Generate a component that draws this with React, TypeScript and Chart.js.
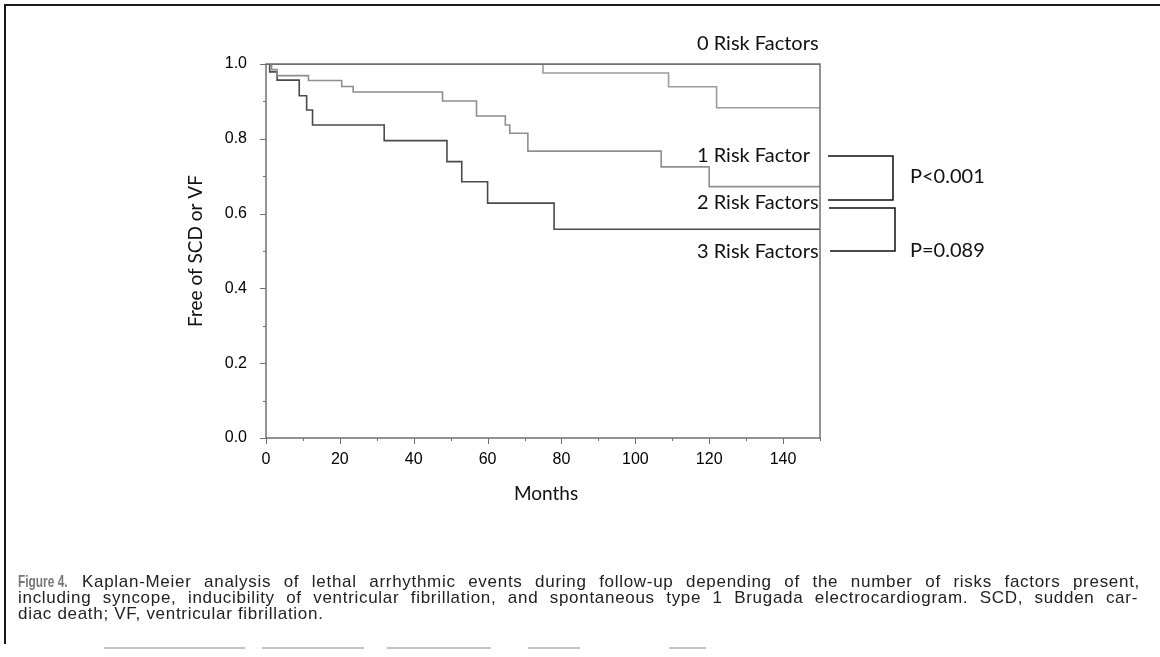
import React, { useEffect, useRef } from "react";
import { Chart, registerables } from "chart.js";

Chart.register(...registerables);

// ---- Data ----
const risk0Months = [0, 150];
const risk0Surv = [1, 1];
const risk1Months = [0, 75, 109, 122, 150];
const risk1Surv = [1, 0.976, 0.939, 0.883, 0.883];
const risk2Months = [0, 1.5, 3, 11.5, 20.5, 23.6, 47.8, 57, 64.8, 66, 70.9, 107, 120, 150];
const risk2Surv = [1, 0.985, 0.969, 0.956, 0.94, 0.925, 0.901, 0.861, 0.837, 0.815, 0.767, 0.725, 0.672, 0.672];
const risk3Months = [0, 1, 3, 9, 11, 12.6, 32, 49, 53, 60, 78, 150];
const risk3Surv = [1, 0.979, 0.957, 0.915, 0.877, 0.837, 0.795, 0.739, 0.685, 0.628, 0.558, 0.558];

const seriesLabels = ["0 Risk Factors", "1 Risk Factor", "2 Risk Factors", "3 Risk Factors"];
const pValueLabels = ["P<0.001", "P=0.089"];
const xMajorTicks = [0, 20, 40, 60, 80, 100, 120, 140];
const yMajorTicks = [0, 0.2, 0.4, 0.6, 0.8, 1.0];
const xTitle = "Months";
const yTitle = "Free of SCD or VF";

const captionHead = "Figure 4.";
const captionLines = [
  "Kaplan-Meier analysis of lethal arrhythmic events during follow-up depending of the number of risks factors present,",
  "including syncope, inducibility of ventricular fibrillation, and spontaneous type 1 Brugada electrocardiogram. SCD, sudden car-",
  "diac death; VF, ventricular fibrillation.",
];

const toPoints = (xs: number[], ys: number[]) => xs.map((x, i) => ({ x, y: ys[i] }));

const LABEL_FONT = '20px "Lato", "Open Sans", sans-serif';

const annotPlugin = {
  id: "annot",
  afterDraw(chart: any) {
    const { ctx, chartArea, scales } = chart;
    const { left, right, top, bottom } = chartArea;
    const xs = scales.x;
    const ys = scales.y;
    ctx.save();
    // frame
    ctx.strokeStyle = "#6f6f6f";
    ctx.lineWidth = 1.5;
    ctx.strokeRect(left, top, right - left, bottom - top);
    // ticks
    ctx.beginPath();
    for (let v = 0; v <= 150; v += 10) {
      const px = Math.round(xs.getPixelForValue(v)) + 0.5;
      const major = v % 20 === 0;
      ctx.moveTo(px, bottom);
      ctx.lineTo(px, bottom + (major ? 6 : 3));
    }
    for (let i = 0; i <= 10; i++) {
      const py = Math.round(ys.getPixelForValue(i / 10)) + 0.5;
      const major = i % 2 === 0;
      ctx.moveTo(left, py);
      ctx.lineTo(left - (major ? 6 : 3), py);
    }
    ctx.lineWidth = 1;
    ctx.stroke();

    // series labels
    ctx.fillStyle = "#111";
    ctx.font = LABEL_FONT;
    ctx.textBaseline = "middle";
    ctx.textAlign = "left";
    const lx = right - 123;
    const labelYs = [top - 20, top + 92, top + 139, top + 188];
    seriesLabels.forEach((s, i) => ctx.fillText(s, lx, labelYs[i]));

    // brackets
    ctx.strokeStyle = "#111";
    ctx.lineWidth = 1.5;
    ctx.beginPath();
    ctx.moveTo(right + 8, top + 92);
    ctx.lineTo(right + 73, top + 92);
    ctx.lineTo(right + 73, top + 136);
    ctx.lineTo(right + 8, top + 136);
    ctx.moveTo(right + 9, top + 144);
    ctx.lineTo(right + 75, top + 144);
    ctx.lineTo(right + 75, top + 187);
    ctx.lineTo(right + 10, top + 187);
    ctx.stroke();

    // p-values
    ctx.fillText(pValueLabels[0], right + 90, top + 113);
    ctx.fillText(pValueLabels[1], right + 90, top + 187);

    // axis titles
    ctx.font = '19px "Lato", "Open Sans", sans-serif';
    ctx.textAlign = "center";
    ctx.fillText(xTitle, (left + right) / 2 + 3, bottom + 56);
    ctx.save();
    ctx.translate(left - 70, (top + bottom) / 2);
    ctx.rotate(-Math.PI / 2);
    ctx.fillText(yTitle, 0, 0);
    ctx.restore();
    ctx.restore();
  },
};

function KMChart() {
  const ref = useRef<HTMLCanvasElement | null>(null);
  useEffect(() => {
    if (!ref.current) return;
    const chart = new Chart(ref.current, {
      type: "line",
      data: {
        datasets: [
          { label: seriesLabels[0], data: toPoints(risk0Months, risk0Surv), borderColor: "#5a5a5a", borderWidth: 1.6 },
          { label: seriesLabels[1], data: toPoints(risk1Months, risk1Surv), borderColor: "#9c9c9c", borderWidth: 1.6 },
          { label: seriesLabels[2], data: toPoints(risk2Months, risk2Surv), borderColor: "#8e8e8e", borderWidth: 1.6 },
          { label: seriesLabels[3], data: toPoints(risk3Months, risk3Surv), borderColor: "#4a4a4a", borderWidth: 1.6 },
        ].map((d) => ({ ...d, stepped: "before" as const, pointRadius: 0, fill: false, tension: 0 })),
      },
      options: {
        animation: false,
        responsive: true,
        maintainAspectRatio: false,
        layout: { padding: { left: 0, top: 64, right: 340, bottom: 189 } },
        plugins: { legend: { display: false }, tooltip: { enabled: false }, title: { display: false } },
        scales: {
          x: {
            type: "linear",
            min: 0,
            max: 150,
            grid: { display: false },
            border: { display: false },
            afterFit: (s: any) => { s.height = 30; },
            ticks: {
              stepSize: 10,
              autoSkip: false,
              maxRotation: 0,
              padding: 4,
              color: "#000",
              font: { family: '"Liberation Sans", Arial, sans-serif', size: 16 },
              callback: (v: any) => (xMajorTicks.includes(Number(v)) ? String(v) : ""),
            },
          },
          y: {
            type: "linear",
            min: 0,
            max: 1,
            grid: { display: false },
            border: { display: false },
            afterFit: (s: any) => { s.width = 266; },
            ticks: {
              stepSize: 0.1,
              autoSkip: false,
              padding: 11,
              color: "#000",
              font: { family: '"Liberation Sans", Arial, sans-serif', size: 16 },
              callback: (v: any) => {
                const n = Number(v);
                return yMajorTicks.some((t) => Math.abs(t - n) < 1e-6) ? n.toFixed(1) : "";
              },
            },
          },
        },
      },
      plugins: [annotPlugin],
    });
    return () => chart.destroy();
  }, []);
  return <canvas ref={ref} />;
}

const scanSegments: [number, number][] = [
  [104, 245], [262, 364], [387, 491], [528, 580], [669, 706],
];

export default function App() {
  const capStyle: React.CSSProperties = {
    fontFamily: '"Liberation Sans", Arial, sans-serif',
    fontSize: 17,
    lineHeight: "16px",
    color: "#222",
    letterSpacing: "0.7px",
    whiteSpace: "nowrap",
  };
  return (
    <div style={{ position: "absolute", left: 0, top: 0, width: 1160, height: 657, background: "#fff", overflow: "hidden" }}>
      <div style={{ position: "absolute", left: 4, top: 4, width: 1156, height: 2, background: "#1a1a1a" }} />
      <div style={{ position: "absolute", left: 4, top: 4, width: 2, height: 640, background: "#1a1a1a" }} />
      {scanSegments.map(([a, b], i) => (
        <div key={i} style={{ position: "absolute", left: a, top: 647, width: b - a, height: 2, background: "#c4c4c4" }} />
      ))}
      <div style={{ position: "absolute", left: 0, top: 0, width: 1160, height: 657 }}>
        <KMChart />
      </div>
      <div
        style={{
          ...capStyle,
          position: "absolute",
          left: 18,
          top: 574,
          letterSpacing: "0px",
          fontWeight: "bold",
          color: "#777",
          transform: "scaleX(0.7)",
          transformOrigin: "left center",
        }}
      >
        {captionHead}
      </div>
      <div style={{ ...capStyle, position: "absolute", left: 82, top: 574, width: 1058, textAlign: "justify", textAlignLast: "justify", whiteSpace: "normal" }}>
        {captionLines[0]}
      </div>
      <div style={{ ...capStyle, position: "absolute", left: 18, top: 590, width: 1120, textAlign: "justify", textAlignLast: "justify", whiteSpace: "normal" }}>
        {captionLines[1]}
      </div>
      <div style={{ ...capStyle, position: "absolute", left: 18, top: 606 }}>{captionLines[2]}</div>
    </div>
  );
}
